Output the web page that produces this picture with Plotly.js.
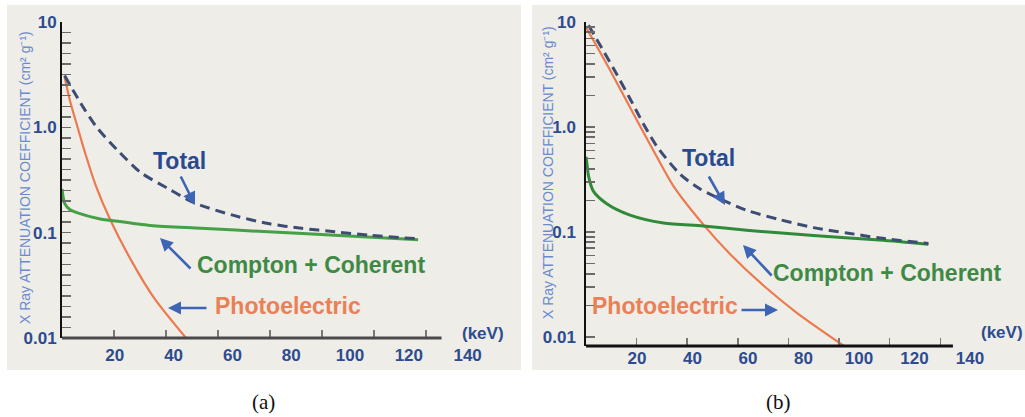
<!DOCTYPE html>
<html>
<head>
<meta charset="utf-8">
<script src="https://cdn.plot.ly/plotly-3.0.1.min.js"></script>
<style>html,body{margin:0;padding:0;background:#fff;}#chart{width:1025px;height:417px;}</style>
</head>
<body>
<div id="chart"></div>
<script>
// ---------- data ----------
const xTickVals = [20, 40, 60, 80, 100, 120, 140];
const xTickText = ['20', '40', '60', '80', '100', '120', '140'];
const yTickVals = [0.01, 0.1, 1, 10];
const yTickText = ['0.01', '0.1', '1.0', '10'];

// panel (a)
const aTotalE   = [1, 8.3, 13.4, 21.2, 30.2, 40.6, 50.9, 66.4, 79.3, 92.2, 105, 118, 136.8];
const aTotalV   = [3.1, 1.53, 1.0, 0.612, 0.374, 0.264, 0.192, 0.145, 0.122, 0.110, 0.102, 0.0946, 0.0875];
const aComptonE = [0, 0.4, 1, 3, 5.7, 14.7, 18.6, 34, 53.5, 79.3, 105, 137];
const aComptonV = [0.26, 0.22, 0.19, 0.166, 0.155, 0.135, 0.131, 0.117, 0.110, 0.102, 0.0946, 0.0855];
const aPhotoE   = [1, 3, 6, 9, 13, 18.6, 27, 35.4, 47.7];
const aPhotoV   = [3.0, 1.82, 1.0, 0.56, 0.28, 0.132, 0.0525, 0.024, 0.01];

// panel (b)
const bTotalE   = [1, 10.8, 17.4, 22.7, 27.9, 37.2, 45.1, 54.3, 63.5, 76.7, 89.9, 103, 116.2, 135.3];
const bTotalV   = [9.3, 3.63, 1.86, 1.07, 0.66, 0.355, 0.257, 0.2, 0.161, 0.131, 0.11, 0.098, 0.0875, 0.0777];
const bComptonE = [0, 0.5, 1, 2.9, 8.2, 17.4, 30.6, 46.4, 63.5, 89.9, 116, 135.3];
const bComptonV = [0.52, 0.42, 0.34, 0.245, 0.186, 0.145, 0.122, 0.114, 0.104, 0.0924, 0.084, 0.0766];
const bPhotoE   = [0, 10, 20, 27, 34.5, 46.4, 56.9, 70.1, 83.3, 101.7];
const bPhotoV   = [8.9, 3.31, 1.17, 0.575, 0.275, 0.1175, 0.0617, 0.0309, 0.0170, 0.0083];

// ---------- styling ----------
const W = 1025, H = 417;
const px = v => v / W;
const py = v => 1 - v / H;
const SANS = 'Liberation Sans, Arial, sans-serif';
const BLUE_LBL = '#2d4b8e';
const ORANGE = '#ec7a4e';
const DASH = '#3d4c72';
const ARROW = '#3e64b4';

function curve(x, y, xa, ya, color, width, dash) {
  return {x: x, y: y, xaxis: xa, yaxis: ya, type: 'scatter', mode: 'lines',
    line: {color: color, width: width, dash: dash || 'solid', shape: 'spline', smoothing: 0.8},
    hoverinfo: 'skip', showlegend: false};
}

const traces = [
  curve(aPhotoE, aPhotoV, 'x', 'y', ORANGE, 2.2),
  curve(aComptonE, aComptonV, 'x', 'y', '#46a046', 3),
  curve(aTotalE, aTotalV, 'x', 'y', DASH, 3, '10px,6px'),
  curve(bPhotoE, bPhotoV, 'x3', 'y2', ORANGE, 2.2),
  curve(bComptonE, bComptonV, 'x3', 'y2', '#2f8a3a', 3),
  curve(bTotalE, bTotalV, 'x3', 'y2', DASH, 3, '10px,6px'),
  {x: [], y: [], xaxis: 'x2', yaxis: 'y', type: 'scatter', showlegend: false},
  {x: [], y: [], xaxis: 'x4', yaxis: 'y2', type: 'scatter', showlegend: false}
];

// tick marks on the log axes: labels only at the decades
function evenTicks(suffix) {      // panel (a): small ticks evenly spaced, 10 per decade
  const v = [], t = [];
  for (let k = -20; k <= 10; k++) {
    v.push(Math.pow(10, k / 10));
    const i = yTickVals.findIndex(d => Math.abs(Math.log10(d) - k / 10) < 1e-9);
    t.push(i >= 0 ? yTickText[i] + suffix : '');
  }
  return {v, t};
}
function logTicks(suffix) {       // panel (b): log minor ticks 2..9
  const v = [], t = [];
  yTickVals.forEach((d, i) => {
    v.push(d); t.push(yTickText[i] + suffix);
    if (i < yTickVals.length - 1) for (let m = 2; m <= 9; m++) { v.push(d * m); t.push(''); }
  });
  return {v, t};
}
const ticksA = evenTicks('');
const ticksB = logTicks('\u00a0');

const tickFont = {family: SANS, size: 17, color: BLUE_LBL, weight: 'bold'};

function tickAxis(domain, range, anchor) {
  return {domain: domain, range: range, anchor: anchor, tickmode: 'array', tickvals: xTickVals,
    showticklabels: false, ticks: 'inside', ticklen: 8, tickwidth: 1.5, tickcolor: '#777',
    showline: false, showgrid: false, zeroline: false, fixedrange: true};
}
function labelAxis(over, range, anchor, standoff) {
  return {overlaying: over, range: range, anchor: anchor, tickmode: 'array', tickvals: xTickVals,
    ticktext: xTickText, ticks: '', showline: false, showgrid: false, zeroline: false,
    tickfont: tickFont, ticklabelstandoff: standoff, fixedrange: true};
}
function logAxis(domain, range, anchor, tk) {
  return {domain: domain, type: 'log', range: range, anchor: anchor, tickmode: 'array',
    tickvals: tk.v, ticktext: tk.t, ticks: 'inside', ticklen: 9, tickwidth: 1.5,
    tickcolor: '#6a6a6a', showline: true, linecolor: '#111', linewidth: 2, showgrid: false,
    zeroline: false, tickfont: tickFont, fixedrange: true};
}

function txt(x, y, text, color, size, extra) {
  return Object.assign({xref: 'paper', yref: 'paper', x: px(x), y: py(y), text: text, showarrow: false,
    xanchor: 'center', yanchor: 'middle', font: {family: SANS, size: size, color: color, weight: 'bold'}}, extra || {});
}
function arrow(hx, hy, tx, ty) {
  return {xref: 'paper', yref: 'paper', x: px(hx), y: py(hy), ax: tx - hx, ay: ty - hy,
    axref: 'pixel', ayref: 'pixel', text: '', showarrow: true, arrowhead: 2, arrowsize: 1,
    arrowwidth: 2.6, arrowcolor: ARROW, standoff: 0, startstandoff: 0};
}

const yTitle = 'X Ray ATTENUATION COEFFICIENT (cm² g⁻¹)';
const titleFont = {family: SANS, size: 14, color: '#6a8ad0'};

const layout = {
  width: W, height: H,
  margin: {l: 0, r: 0, t: 0, b: 0, pad: 0},
  paper_bgcolor: '#ffffff', plot_bgcolor: 'rgba(0,0,0,0)',
  showlegend: false,
  xaxis:  tickAxis([px(62), px(480)], [0, 160.8], 'y'),
  xaxis2: labelAxis('x', [2.04, 144.2], 'y', 5),
  yaxis:  logAxis([py(338), py(22)], [-2, 1], 'x', ticksA),
  xaxis3: tickAxis([px(586), px(1000)], [0, 163.6], 'y2'),
  xaxis4: labelAxis('x3', [1.62, 150.8], 'y2', 0),
  yaxis2: logAxis([py(346), py(22)], [-2.086, 1], 'x3', ticksB),
  shapes: [
    {type: 'rect', xref: 'paper', yref: 'paper', x0: px(7), x1: px(521), y0: py(370), y1: py(5),
      fillcolor: '#eeede8', line: {width: 0}, layer: 'below'},
    {type: 'rect', xref: 'paper', yref: 'paper', x0: px(532), x1: px(1025), y0: py(370), y1: py(5),
      fillcolor: '#eeede8', line: {width: 0}, layer: 'below'},
    {type: 'line', xref: 'x', yref: 'y domain', x0: 0, x1: 146, y0: 0, y1: 0,
      line: {color: '#4a4a4a', width: 3}},
    {type: 'line', xref: 'x3', yref: 'y2 domain', x0: 0, x1: 145, y0: 0, y1: 0,
      line: {color: '#111', width: 3}}
  ],
  annotations: [
    // panel (a)
    txt(179, 161, 'Total', '#2a4a8f', 23),
    txt(311, 265, 'Compton + Coherent', '#3e8a45', 23),
    txt(288, 306, 'Photoelectric', '#ea8055', 23),
    txt(483, 333, '(keV)', BLUE_LBL, 17),
    arrow(195, 205, 180, 175),
    arrow(160, 238, 192, 270),
    arrow(168, 308, 208, 308),
    txt(25, 178, yTitle, '#6a8ad0', 14, {textangle: -90, font: titleFont}),
    // panel (b)
    txt(708, 158, 'Total', '#2a4a8f', 23),
    txt(887, 273, 'Compton + Coherent', '#3e8a45', 23),
    txt(665, 306, 'Photoelectric', '#ea8055', 23),
    txt(1002, 332, '(keV)', BLUE_LBL, 17),
    arrow(725, 205, 708, 175),
    arrow(743, 245, 773, 277),
    arrow(778, 310, 740, 310),
    txt(548, 173, yTitle, '#6a8ad0', 14, {textangle: -90, font: titleFont}),
    // captions
    {xref: 'paper', yref: 'paper', x: px(263), y: py(402), text: '(a)', showarrow: false,
      xanchor: 'center', yanchor: 'middle', font: {family: 'Liberation Serif, DejaVu Serif, serif', size: 21, color: '#111'}},
    {xref: 'paper', yref: 'paper', x: px(778), y: py(402), text: '(b)', showarrow: false,
      xanchor: 'center', yanchor: 'middle', font: {family: 'Liberation Serif, DejaVu Serif, serif', size: 21, color: '#111'}}
  ]
};

Plotly.newPlot('chart', traces, layout, {staticPlot: true, displayModeBar: false});
</script>
</body>
</html>
